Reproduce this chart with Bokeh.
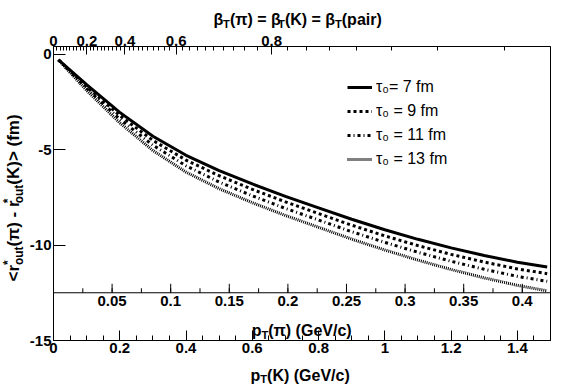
import math
from bokeh.plotting import figure
from bokeh.models import (LinearAxis, FixedTicker, CustomJSTickFormatter, Span,
                          Legend, LegendItem, Range1d, ColumnDataSource)
from bokeh.layouts import column, row
from bokeh.core.properties import value
from bokeh.embed import file_html
from bokeh.resources import INLINE

# ---------------- data ----------------
M_PI = 0.13957
M_K = 0.49368

pt_k = [0.015, 0.1, 0.2, 0.3, 0.4, 0.5, 0.6, 0.7, 0.8, 0.9, 1.0, 1.1, 1.2, 1.3, 1.4, 1.49]
tau7 = [-0.3, -1.6, -3.05, -4.3, -5.3, -6.1, -6.8, -7.45, -8.05, -8.65, -9.2, -9.7, -10.15, -10.55, -10.9, -11.15]
tau9 = [-0.3, -1.7, -3.22, -4.52, -5.55, -6.37, -7.08, -7.74, -8.35, -8.96, -9.52, -10.03, -10.49, -10.89, -11.25, -11.5]
tau11 = [-0.3, -1.8, -3.4, -4.77, -5.85, -6.7, -7.42, -8.08, -8.69, -9.3, -9.86, -10.38, -10.85, -11.27, -11.64, -11.9]
tau13 = [-0.3, -1.9, -3.6, -5.05, -6.18, -7.05, -7.78, -8.45, -9.07, -9.69, -10.26, -10.79, -11.28, -11.72, -12.11, -12.4]
series_labels = ["τ₀= 7 fm", "τ₀ = 9 fm", "τ₀ = 11 fm", "τ₀ = 13 fm"]

pk_ticks = [0, 0.2, 0.4, 0.6, 0.8, 1.0, 1.2, 1.4]
pk_minor = [round(0.05 * i, 3) for i in range(31)]
pi_ticks = [0.05, 0.1, 0.15, 0.2, 0.25, 0.3, 0.35, 0.4]
pi_labels = ["0.05", "0.1", "0.15", "0.2", "0.25", "0.3", "0.35", "0.4"]
pi_minor = [round(0.025 * i, 4) for i in range(1, 18)]
beta_ticks = [0, 0.2, 0.4, 0.6, 0.8]
beta_minor = [round(0.02 * i, 3) for i in range(1, 48)]
y_ticks = [0, -5, -10, -15]
PI_AXIS_Y = -12.5

# ---------------- layout (page pixels) ----------------
FONT = "Liberation Sans"
PAGE_W = 566
TOP_H = 28          # strip with the beta title
LEFT_W = 26         # strip with the y title
BOT_H = 26          # strip with the pT(K) title
MAIN_W = PAGE_W - LEFT_W
MAIN_H = 332
F_LEFT, F_RIGHT, F_TOP, F_BOT = 51, 550, 46, 340   # frame on the page
X0, X1 = 0.0, 1.5
Y0, Y1 = -15.0, 0.4
FW, FH = F_RIGHT - F_LEFT, F_BOT - F_TOP


def pi_to_k(p):
    return p * M_K / M_PI


def beta_to_k(b):
    return M_K * b / math.sqrt(1 - b * b)


p = figure(width=MAIN_W, height=MAIN_H, x_range=Range1d(X0, X1), y_range=Range1d(Y0, Y1),
           output_backend="svg", toolbar_location=None, title=None, frame_align=False,
           min_border_left=F_LEFT - LEFT_W, min_border_right=MAIN_W - (F_RIGHT - LEFT_W),
           min_border_top=F_TOP - TOP_H, min_border_bottom=MAIN_H - (F_BOT - TOP_H))
p.xgrid.visible = False
p.ygrid.visible = False
p.background_fill_color = "white"
p.border_fill_color = "white"
p.outline_line_color = "black"
p.outline_line_width = 1


def style_axis(ax, tin, tmin):
    ax.axis_line_color = "black"
    ax.axis_line_width = 1
    ax.major_tick_out = 0
    ax.minor_tick_out = 0
    ax.major_tick_in = tin
    ax.minor_tick_in = tmin
    ax.major_tick_line_color = "black"
    ax.minor_tick_line_color = "black"
    ax.major_label_text_font = FONT
    ax.major_label_text_font_style = "bold"
    ax.major_label_text_font_size = "15px"
    ax.major_label_text_color = "black"
    ax.major_label_standoff = 2


bx = p.xaxis[0]
bx.ticker = FixedTicker(ticks=pk_ticks, minor_ticks=pk_minor)
bx.formatter = CustomJSTickFormatter(code="return String(Math.round(tick*10)/10);")
style_axis(bx, 10, 5)

ly = p.yaxis[0]
ly.ticker = FixedTicker(ticks=y_ticks, minor_ticks=[])
ly.formatter = CustomJSTickFormatter(code="return String(Math.round(tick));")
style_axis(ly, 12, 0)

top = LinearAxis(ticker=FixedTicker(ticks=[beta_to_k(b) for b in beta_ticks],
                                    minor_ticks=[beta_to_k(b) for b in beta_minor]),
                 formatter=CustomJSTickFormatter(args=dict(m=M_K), code="""
const b = tick/Math.sqrt(tick*tick + m*m);
const r = Math.round(b*10)/10;
return r === 0 ? '0' : r.toFixed(1);"""))
style_axis(top, 8, 4)
top.major_label_standoff = 1
p.add_layout(top, "above")

# inner pT(pi) axis
p.add_layout(Span(location=PI_AXIS_Y, dimension="width", line_color="black", line_width=1))
px_unit = FH / (Y1 - Y0)
pi_major_x = [pi_to_k(v) for v in pi_ticks]
pi_minor_x = [pi_to_k(v) for v in pi_minor]
p.segment(x0=pi_major_x, x1=pi_major_x, y0=[PI_AXIS_Y] * len(pi_major_x),
          y1=[PI_AXIS_Y + 9 / px_unit] * len(pi_major_x), line_color="black", line_width=1)
p.segment(x0=pi_minor_x, x1=pi_minor_x, y0=[PI_AXIS_Y] * len(pi_minor_x),
          y1=[PI_AXIS_Y + 4.5 / px_unit] * len(pi_minor_x), line_color="black", line_width=1)
p.text(x=pi_major_x, y=[PI_AXIS_Y] * len(pi_major_x), text=pi_labels, y_offset=3,
       text_align="center", text_baseline="top", text_font=value(FONT),
       text_font_style="bold", text_font_size="15px", text_color="black")

# curves
styles = [("solid", 3), ("3 3", 3), ("3 3 1 3", 3), ("1 1", 3)]
renderers = []
for ys, (dash, lw) in zip([tau7, tau9, tau11, tau13], styles):
    r = p.line(pt_k, ys, line_color="black", line_width=lw, line_dash=dash)
    renderers.append(r)

legend = Legend(items=[LegendItem(label=l, renderers=[r]) for l, r in zip(series_labels, renderers)],
                location=(294, 172), padding=0, margin=0, spacing=6,
                glyph_width=25, glyph_height=18, label_height=18, label_standoff=4,
                label_text_font=FONT, label_text_font_size="16px", label_text_color="black",
                border_line_color=None, background_fill_alpha=0)
p.add_layout(legend)

# ---------------- rich-text titles ----------------
CW = {' ': 278, '(': 333, ')': 333, '*': 389, '-': 333, '.': 278, '/': 278, '<': 584, '=': 584,
      '>': 584, 'G': 778, 'K': 722, 'T': 611, 'V': 667, 'a': 556, 'c': 556, 'e': 556, 'f': 333,
      'i': 278, 'm': 889, 'o': 611, 'p': 611, 'r': 389, 't': 333, 'u': 611, 'π': 600, 'β': 600}
MID = 0.35   # distance (in em) from the alphabetic baseline up to the middle of the em box


def tw(s, size):
    return sum(CW.get(c, 556) for c in s) * size / 1000.0


def rich(parts, x, y, size, vertical=False):
    """Pieces (page_x, page_y, text, size, angle) of a title with sub/superscripts.
    Horizontal pieces are anchored on their alphabetic baseline, vertical ones
    on the middle of their em box."""
    out = []
    pos = 0.0
    small = size * 0.7
    ang = math.pi / 2 if vertical else 0.0

    def put(t, o, s):
        if vertical:
            out.append((x + o - MID * s, y - pos, t, s, ang))
        else:
            out.append((x + pos, y + o, t, s, ang))

    for txt, kind in parts:
        if kind == "stack":
            sup, sub = txt
            put(sup, -size * 0.42, small)
            put(sub, size * 0.25, small)
            pos += max(tw(sup, small), tw(sub, small))
            continue
        s = size if kind == "n" else small
        put(txt, 0 if kind == "n" else size * 0.25, s)
        pos += tw(txt, s)
    return out


def draw_pieces(fig, pieces, to_x, to_y, baseline="alphabetic"):
    src = ColumnDataSource(dict(
        x=[to_x(a[0]) for a in pieces], y=[to_y(a[1]) for a in pieces],
        t=[a[2] for a in pieces], fs=[f"{a[3]:.1f}px" for a in pieces],
        ang=[a[4] for a in pieces]))
    fig.text(x="x", y="y", text="t", angle="ang", text_font_size="fs", source=src,
             text_font=value(FONT), text_font_style="bold", text_color="black",
             text_align="left", text_baseline=baseline)


def strip(w, h):
    f = figure(width=w, height=h, x_range=Range1d(0, w), y_range=Range1d(0, h),
               output_backend="svg", toolbar_location=None, title=None, frame_align=False,
               x_axis_location=None, y_axis_location=None,
               min_border=0, min_border_left=0, min_border_right=0,
               min_border_top=0, min_border_bottom=0)
    f.xgrid.visible = False
    f.ygrid.visible = False
    f.outline_line_color = None
    f.background_fill_color = "white"
    f.border_fill_color = "white"
    return f


# pT(pi) title (inside the frame of the main plot)
pi_title = rich([("p", "n"), ("T", "sub"), ("(π) (GeV/c)", "n")], 250, 330, 16)
draw_pieces(p, pi_title,
            lambda px: X0 + (px - F_LEFT) / FW * (X1 - X0),
            lambda py: Y1 - (py - F_TOP) / FH * (Y1 - Y0))

# top strip: beta title
top_strip = strip(PAGE_W, TOP_H)
beta_title = rich([("β", "n"), ("T", "sub"), ("(π) = β", "n"), ("T", "sub"), ("(K) = β", "n"),
                   ("T", "sub"), ("(pair)", "n")], 213, 19, 16)
draw_pieces(top_strip, beta_title, lambda px: px, lambda py: TOP_H - py)

# left strip: y title
left_strip = strip(LEFT_W, MAIN_H)
y_title = rich([("<r", "n"), (("*", "out"), "stack"), ("(π) - r", "n"), (("*", "out"), "stack"),
                ("(K)> (fm)", "n")], 18.5, 281, 17, vertical=True)
draw_pieces(left_strip, y_title, lambda px: px, lambda py: MAIN_H - (py - TOP_H), "middle")

# bottom strip: pT(K) title
bot_strip = strip(PAGE_W, BOT_H)
k_title = rich([("p", "n"), ("T", "sub"), ("(K) (GeV/c)", "n")], 250, 374.5, 16)
BOT_Y = TOP_H + MAIN_H
draw_pieces(bot_strip, k_title, lambda px: px, lambda py: BOT_H - (py - BOT_Y))

layout = column(top_strip, row(left_strip, p), bot_strip)
open("out.html", "w").write(file_html(layout, INLINE))
